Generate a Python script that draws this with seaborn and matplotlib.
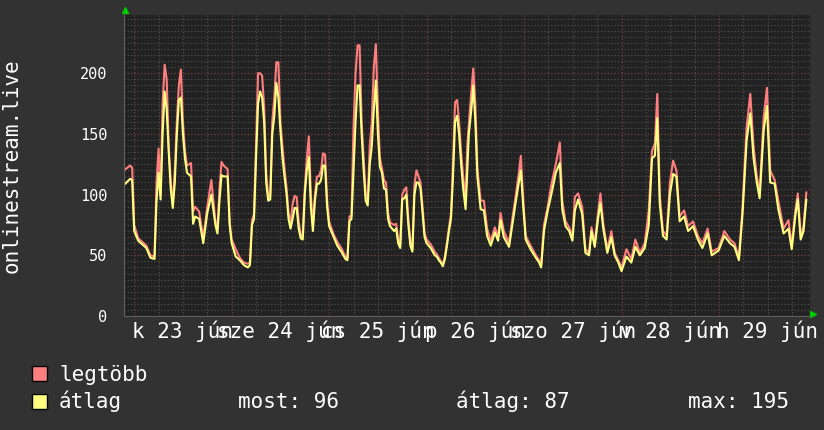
import pandas as pd
import matplotlib.pyplot as plt
import seaborn as sns
from matplotlib.ticker import MultipleLocator
from matplotlib.patches import Rectangle

# hours since 2020-06-23 00:00, weekly view
hours = [
    -2.5, -1, -0.5, 0, 1, 2, 3, 4, 5, 5.5, 6, 6.5, 7, 7.5, 8, 8.5, 9, 9.5, 10,
    10.5, 11, 11.5, 12, 12.5, 13, 14, 14.5, 15, 16, 17, 18, 19, 20, 20.5, 21,
    21.5, 22, 23, 23.5,
    24, 25, 26, 27, 28, 28.5, 29, 29.5, 30, 30.5, 31, 31.5, 32, 32.5, 33, 33.5,
    34, 34.5, 35, 35.5, 36, 36.5, 37, 37.5, 38, 38.5, 39, 39.5, 40, 40.5, 41,
    41.5, 42, 42.5, 43, 43.5, 44, 44.5, 45, 45.5, 46, 46.5, 47, 47.5,
    48, 49, 50, 51, 52, 52.5, 53, 53.5, 54, 54.5, 55, 55.5, 56, 56.5, 57, 57.5,
    58, 58.5, 59, 59.5, 60, 60.5, 61, 61.5, 62, 62.5, 63, 64, 64.5, 65, 65.5,
    66, 66.5, 67, 67.5, 68, 68.5, 69, 69.5, 70, 70.5, 71, 71.5,
    72, 73, 74, 74.5, 75, 75.5, 76, 76.5, 77, 77.5, 78, 78.5, 79, 79.5, 80,
    80.5, 81, 81.6, 82, 82.4, 83, 83.5, 84, 84.5, 85.3, 86.1, 86.9, 87.8, 88.8,
    89.6, 90.2, 91, 92.3, 93.1, 93.9, 94.7, 95.2, 95.8,
    96.4, 97.6, 98.9, 99.7, 100.2, 100.9, 101.7, 102.7, 103.8, 104.8, 105.4,
    106.2, 107.1, 107.9, 108.5, 109.3, 110.3, 111.1, 112, 112.6, 113.4, 114.2,
    114.8, 115.5, 116.5, 117.5, 118.3, 119.2,
    120, 121.2, 122.4, 123.4, 124.5, 125.7, 126.7, 127.5, 128.2, 128.8, 129.4,
    130.2, 131.1, 131.9, 132.7, 133.5, 134.3, 135.4, 136.4, 137.6, 138.8,
    139.9, 141.2, 142.2, 143.9,
    145.3, 146.7, 147.8, 148.9, 149.8, 150.8, 151.7, 152.5, 153.3, 154, 155,
    155.8, 156.6, 157.7, 158.6, 159.9, 161.1, 161.9, 162.8, 163.4, 164.1,
    164.8, 165.5,
]

atlag = [
    108, 113, 112, 70, 62, 59, 56, 48, 47, 95, 118, 96, 150, 185, 170, 135, 105, 89, 110,
    150, 178, 180, 150, 130, 118, 115, 76, 82, 80, 60, 85, 100, 75, 68, 95,
    116, 115, 115, 75,
    60, 49, 46, 42, 40, 42, 75, 80, 130, 175, 185, 180, 160, 110, 95, 96,
    150, 165, 192, 180, 153, 131, 115, 101, 80, 72, 80, 89, 89, 72, 64,
    63, 100, 120, 131, 90, 70, 95, 109, 109, 112, 124, 124, 90,
    74, 66, 58, 53, 47, 46, 78, 80, 120, 160, 190, 190, 150, 120, 95, 91,
    125, 140, 170, 194, 150, 123, 118, 105, 104, 80, 74, 70, 72, 60, 56,
    96, 97, 100, 75, 58, 53, 100, 110, 110, 105, 85, 65,
    60, 56, 50, 49, 46, 44, 41, 47, 58, 70, 80, 115, 160, 165, 150,
    125, 105, 88, 120, 150, 170, 190, 160, 115, 88, 87, 66, 58, 69,
    62, 79, 65, 57, 75, 93, 110, 120, 90,
    63, 55, 48, 44, 40, 70, 85, 100, 118, 126, 88,
    74, 70, 62, 87, 96, 84, 52, 50, 70, 57, 80,
    93, 72, 52, 65, 50, 44,
    37, 49, 44, 57, 50, 56, 75, 130, 132, 163, 93,
    66, 63, 100, 117, 115, 78, 82, 70, 74, 63,
    56, 68, 50, 54,
    66, 60, 57, 46, 85, 145, 167, 130, 110, 97, 153,
    173, 110, 109, 88, 68, 72, 55, 83, 96, 63,
    70, 96,
]

legtobb = [
    120, 124, 122, 75, 64, 61, 58, 50, 49, 110, 138, 100, 175, 207, 195, 140, 110, 92, 120,
    160, 190, 203, 160, 136, 124, 126, 86, 90, 86, 64, 90, 112, 78, 72, 105,
    127, 124, 121, 78,
    63, 55, 48, 44, 43, 44, 79, 84, 140, 200, 200, 198, 172, 118, 98, 100,
    160, 180, 209, 209, 160, 140, 122, 106, 85, 76, 92, 99, 98, 78, 67,
    65, 105, 130, 148, 100, 74, 100, 115, 115, 120, 134, 133, 95,
    78, 68, 61, 56, 49, 48, 82, 83, 155, 200, 223, 223, 160, 130, 100, 95,
    140, 160, 205, 224, 170, 130, 122, 112, 110, 85, 77, 75, 76, 63, 58,
    100, 104, 106, 80, 62, 55, 108, 120, 115, 110, 90, 68,
    63, 59, 53, 51, 48, 45, 43, 49, 60, 73, 84, 125, 176, 178, 160,
    135, 115, 95, 140, 158, 185, 204, 175, 122, 95, 95, 72, 62, 73,
    65, 85, 70, 60, 80, 98, 118, 132, 95,
    66, 58, 50, 46, 42, 75, 88, 108, 125, 143, 95,
    78, 73, 65, 98, 101, 90, 55, 52, 73, 60, 85,
    101, 76, 55, 70, 52, 46,
    40, 55, 47, 63, 52, 60, 87, 136, 142, 183, 100,
    70, 66, 110, 128, 120, 82, 87, 74, 78, 66,
    60, 72, 53, 56,
    70, 63, 60, 48, 90, 156, 183, 140, 115, 102, 164,
    188, 120, 112, 95, 72, 79, 58, 87, 101, 66,
    74, 102,
]

day_labels = ["k 23 jún", "sze 24 jún", "cs 25 jún", "p 26 jún",
              "szo 27 jún", "v 28 jún", "h 29 jún"]
legend_stats = ["most: 96", "átlag: 87", "max: 195"]

df = pd.DataFrame({"hours": hours, "atlag": atlag, "legtobb": legtobb})

BACK = "#323232"
CANVAS = "#222222"
RED = "#ff7f7f"
YELLOW = "#ffff80"

sns.set_theme(style="dark", rc={"figure.facecolor": BACK, "axes.facecolor": CANVAS})
plt.rcParams["font.family"] = ["DejaVu Sans Mono"]
plt.rcParams["font.size"] = 15

fig = plt.figure(figsize=(8.24, 4.30), dpi=100)
ax = fig.add_axes([124 / 824, 114 / 430, 686 / 824, 301 / 430])

sns.lineplot(data=df, x="hours", y="legtobb", ax=ax, color=RED, linewidth=1.5, legend=False)
sns.lineplot(data=df, x="hours", y="atlag", ax=ax, color=YELLOW, linewidth=1.5, legend=False)

ax.set_xlim(-2.51, 166.4)
ax.set_ylim(0, 248)
ax.set_xlabel("")
ax.set_ylabel("")

ax.xaxis.set_major_locator(MultipleLocator(24))
ax.xaxis.set_minor_locator(MultipleLocator(6))
ax.yaxis.set_major_locator(MultipleLocator(50))
ax.yaxis.set_minor_locator(MultipleLocator(5))
ax.set_axisbelow(True)
ax.grid(True, which="minor", color="#545454", linestyle=(0, (1, 2)), linewidth=0.8)
ax.grid(True, which="major", color="#844646", linestyle=(0, (1, 2)), linewidth=0.8)

ax.tick_params(axis="x", which="both", labelbottom=False, length=2, color="#707070", direction="out")
ax.tick_params(axis="y", which="both", length=2, color="#707070", direction="out")
ax.tick_params(axis="y", which="major", colors="white", pad=10)
ax.tick_params(axis="y", which="major", color="#707070")

for s in ["top", "right"]:
    ax.spines[s].set_visible(False)
for s in ["left", "bottom"]:
    ax.spines[s].set_color("#606060")
    ax.spines[s].set_linewidth(0.8)

# day labels centred on noon
for i, lab in enumerate(day_labels):
    ax.text(12 + 24 * i, -22 / 301, lab, transform=ax.get_xaxis_transform(),
            ha="center", va="baseline", color="white", fontsize=15)

# green arrows at axis ends
ax.plot([0.001], [1.015], marker="^", color="#00cc00", markersize=4.5,
        transform=ax.transAxes, clip_on=False)
ax.plot([1.005], [0.006], marker=">", color="#00cc00", markersize=4.5,
        transform=ax.transAxes, clip_on=False)

fig.text(11.5 / 824, 1 - 165.5 / 430, "onlinestream.live", rotation=90,
         ha="center", va="center", color="white", fontsize=15)

# legend
fig.patches.append(Rectangle((32 / 824, 1 - 381 / 430), 15 / 824, 15 / 430,
                             transform=fig.transFigure, facecolor=RED, edgecolor="black", lw=1))
fig.patches.append(Rectangle((32 / 824, 1 - 409 / 430), 15 / 824, 15 / 430,
                             transform=fig.transFigure, facecolor=YELLOW, edgecolor="black", lw=1))
fig.text(59 / 824, 1 - 381 / 430, "legtöbb", color="white", va="baseline", fontsize=15)
fig.text(59 / 824, 1 - 408 / 430, "átlag", color="white", va="baseline", fontsize=15)
for xpix, txt in zip([238, 456, 688], legend_stats):
    fig.text(xpix / 824, 1 - 408 / 430, txt, color="white", va="baseline", fontsize=15)

fig.savefig("out.png", dpi=100, facecolor=BACK)
